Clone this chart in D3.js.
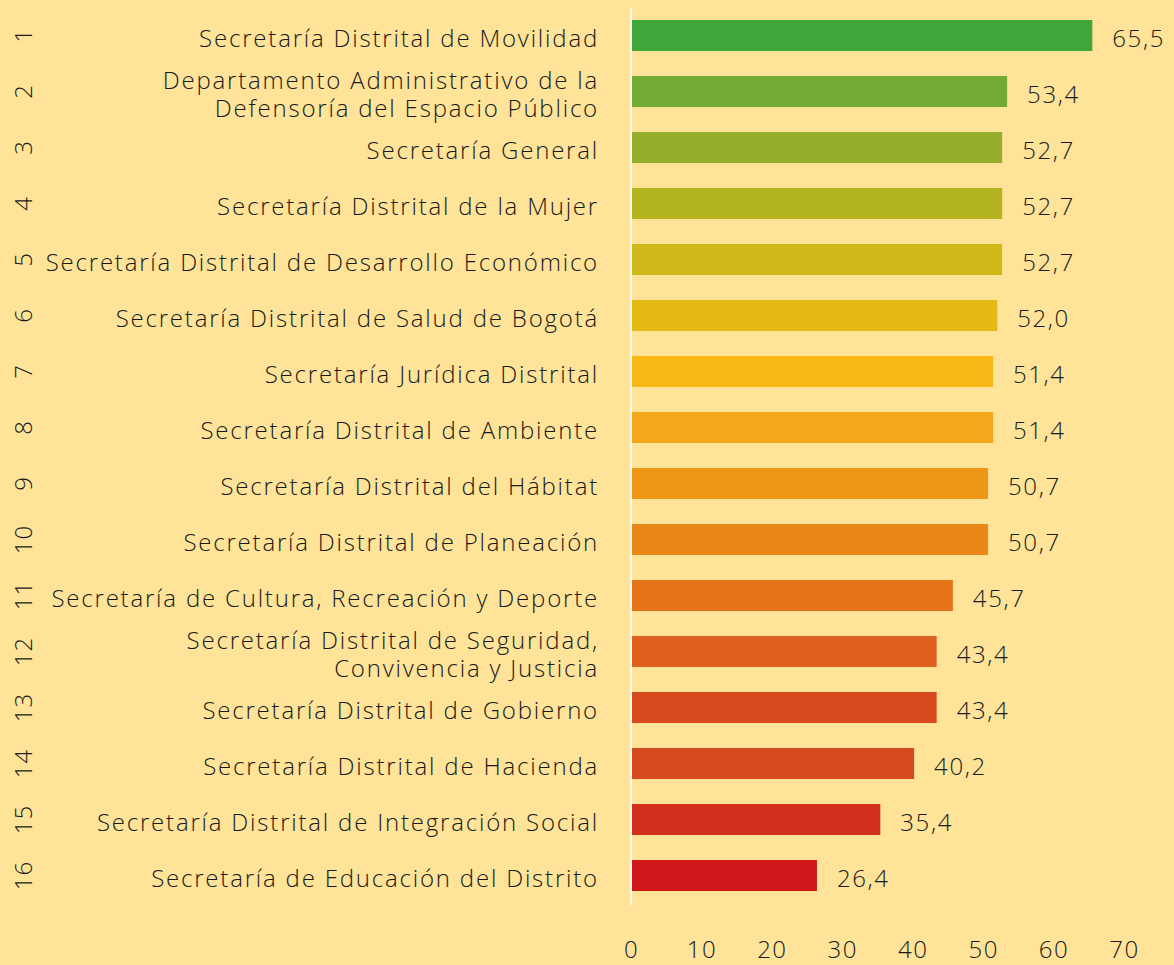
<!DOCTYPE html>
<html>
<head>
<meta charset="utf-8">
<script src="https://cdn.jsdelivr.net/npm/d3@7"></script>
<style>
html,body{margin:0;padding:0;background:#FEE398;}
svg{display:block;}
text{font-family:"Open Sans",sans-serif;fill:#1a1a1a;}
</style>
</head>
<body>
<svg id="chart" width="1174" height="965"></svg>
<script>
const ranks = ["1","2","3","4","5","6","7","8","9","10","11","12","13","14","15","16"];
const categories = [
  ["Secretaría Distrital de Movilidad"],
  ["Departamento Administrativo de la","Defensoría del Espacio Público"],
  ["Secretaría General"],
  ["Secretaría Distrital de la Mujer"],
  ["Secretaría Distrital de Desarrollo Económico"],
  ["Secretaría Distrital de Salud de Bogotá"],
  ["Secretaría Jurídica Distrital"],
  ["Secretaría Distrital de Ambiente"],
  ["Secretaría Distrital del Hábitat"],
  ["Secretaría Distrital de Planeación"],
  ["Secretaría de Cultura, Recreación y Deporte"],
  ["Secretaría Distrital de Seguridad,","Convivencia y Justicia"],
  ["Secretaría Distrital de Gobierno"],
  ["Secretaría Distrital de Hacienda"],
  ["Secretaría Distrital de Integración Social"],
  ["Secretaría de Educación del Distrito"]
];
const values = [65.5,53.4,52.7,52.7,52.7,52.0,51.4,51.4,50.7,50.7,45.7,43.4,43.4,40.2,35.4,26.4];
const colors = ["#3FA63A","#72AB33","#95AE2B","#B3B420","#CFB818","#E5BA15","#F9B815","#F3A71A",
                "#EE9717","#EA8719","#E4731A","#DE5F1E","#D8491E","#D64A1F","#D32F1D","#CE181C"];
const ticks = [0,10,20,30,40,50,60,70];

const svg = d3.select("#chart");
const x = d3.scaleLinear().domain([0,70]).range([631,1124]);
const y = d3.scaleBand().domain(ranks).range([7.5,903.5]).paddingInner(0.446).paddingOuter(0.223);
const fmt = v => d3.format(".1f")(v).replace(".", ",");

// vertical baseline
svg.append("line").attr("x1",x(0)).attr("x2",x(0)).attr("y1",8).attr("y2",905)
  .attr("stroke","#ffffff").attr("stroke-width",1.5);

// bars
svg.selectAll("rect.bar").data(values).join("rect").attr("class","bar")
  .attr("x",x(0)+1).attr("y",(d,i)=>y(ranks[i]))
  .attr("width",d=>x(d)-x(0)-1).attr("height",y.bandwidth())
  .attr("fill",(d,i)=>colors[i]);

// value labels
svg.selectAll("text.val").data(values).join("text").attr("class","val")
  .attr("x",d=>x(d)+20).attr("y",(d,i)=>y(ranks[i])+y.bandwidth()/2)
  .attr("dy","0.48em").attr("font-size",24).attr("font-weight",300)
  .attr("letter-spacing","1.6px")
  .text(fmt);

// category labels
const cat = svg.selectAll("text.cat").data(categories).join("text").attr("class","cat")
  .attr("text-anchor","end").attr("font-size",24).attr("font-weight",300)
  .attr("letter-spacing","1.8px")
  .attr("y",(d,i)=>y(ranks[i])+y.bandwidth()/2);
cat.each(function(lines){
  const t = d3.select(this);
  const n = lines.length;
  lines.forEach((l,k)=>{
    t.append("tspan").attr("x",599)
      .attr("dy", k===0 ? (0.48 - (n-1)*0.57) + "em" : "1.15em")
      .text(l);
  });
});

// rank labels rotated
svg.selectAll("text.rank").data(ranks).join("text").attr("class","rank")
  .attr("transform",d=>`translate(23,${y(d)+y.bandwidth()/2}) rotate(-90)`)
  .attr("text-anchor","middle").attr("dy","0.36em")
  .attr("font-size",24).attr("font-weight",300).attr("letter-spacing","1px")
  .text(d=>d);

// x axis
const ax = svg.append("g").attr("transform","translate(0,941)")
  .call(d3.axisBottom(x).tickValues(ticks).tickSize(0).tickPadding(0));
ax.select(".domain").remove();
ax.selectAll("text").attr("font-size",24).attr("font-weight",300)
  .attr("font-family","'Open Sans',sans-serif").attr("fill","#1a1a1a")
  .attr("letter-spacing","1.5px").attr("dy","0.71em");
</script>
</body>
</html>
